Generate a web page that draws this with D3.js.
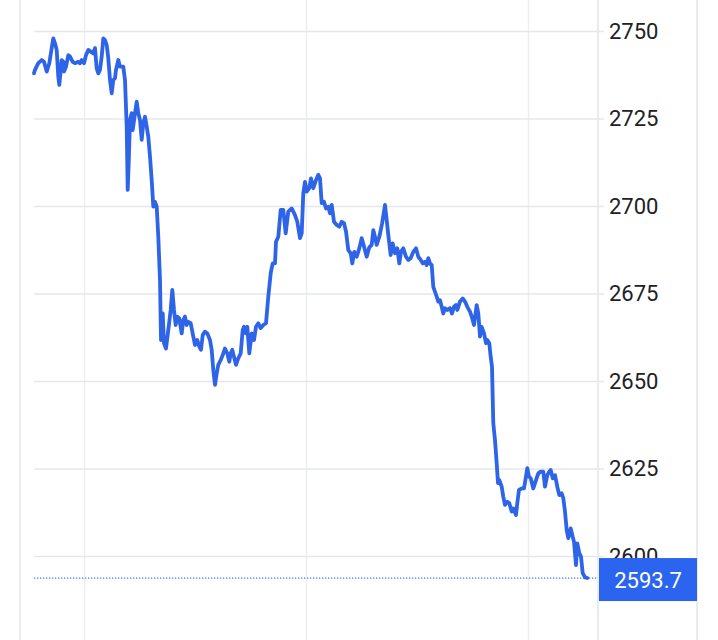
<!DOCTYPE html>
<html>
<head>
<meta charset="utf-8">
<script src="https://cdn.jsdelivr.net/npm/d3@7"></script>
<style>
  html, body { margin: 0; padding: 0; background: #fff; }
  svg { display: block; font-family: Roboto, "Noto Sans", Arial, sans-serif; }
</style>
</head>
<body>
<div id="chart"></div>
<script>
// price samples: [time step, price]
const prices = [
  [0, 2737.9], [1, 2738.9], [4.3, 2740.8], [7.7, 2741.7], [10, 2741.2], [12.7, 2738.4], [15.3, 2740.8], [17.7, 2745.1], [19.3, 2747.9], [21, 2746.5],
  [22.7, 2744.6], [24.3, 2736.9], [25.3, 2734.6], [27.7, 2741.7], [29.3, 2741.2], [30, 2738.4], [32, 2739.8], [34.3, 2743.1], [36, 2742.7], [38.7, 2741.2],
  [41, 2740.8], [44.3, 2741.2], [46, 2740.8], [47.7, 2741.7], [50, 2740.8], [52, 2743.1], [54.3, 2744.6], [56.7, 2744.1], [59.3, 2743.6], [61, 2745.1],
  [62.7, 2739.3], [64.3, 2737.9], [66, 2738.9], [67.7, 2742.7], [69.3, 2747.9], [71, 2747.4], [72.7, 2746.0], [74.3, 2742.2], [76, 2736.0], [77.7, 2732.2],
  [79.3, 2736.0], [81, 2736.5], [82, 2738.9], [84.3, 2741.7], [86, 2739.8], [89.3, 2739.8], [91, 2736.0], [92.7, 2722.7], [93.7, 2704.6], [94.7, 2712.2],
  [96, 2724.6], [97.7, 2726.5], [98.7, 2721.7], [101, 2726.5], [102.7, 2729.8], [104.3, 2726.5], [106, 2724.6], [107.7, 2718.9], [109.3, 2723.6], [111, 2725.5],
  [112.7, 2722.7], [114.3, 2719.8], [116, 2714.1], [117.7, 2707.4], [119.3, 2699.8], [121, 2701.2], [122.7, 2699.8], [124.3, 2691.2], [126, 2678.9], [127, 2661.7],
  [128.7, 2669.3], [130, 2660.8], [132, 2659.3], [134.3, 2664.6], [136.7, 2670.3], [138.3, 2676.0], [140, 2670.3], [141.7, 2666.0], [143.3, 2668.4], [145.3, 2667.9],
  [147.7, 2663.6], [149.3, 2667.4], [151, 2668.4], [152.7, 2666.0], [154.3, 2666.9], [156.7, 2666.5], [159.3, 2662.7], [161, 2660.3], [163.3, 2661.7], [165.3, 2659.8],
  [167, 2658.9], [168.7, 2663.1], [171, 2664.1], [173.3, 2663.6], [176, 2661.7], [177.7, 2658.9], [179.3, 2653.1], [181, 2648.9], [182.7, 2652.2], [184.3, 2654.6],
  [186.7, 2656.0], [188.7, 2657.4], [191, 2659.3], [193.3, 2657.9], [195.3, 2655.5], [196.7, 2657.9], [198.3, 2658.9], [200, 2656.9], [202, 2654.6], [204.3, 2656.5],
  [206.7, 2657.9], [208.7, 2664.6], [210, 2665.5], [212, 2663.6], [213.3, 2665.5], [215.3, 2657.9], [217.7, 2663.6], [220, 2661.7], [222, 2665.5], [224.3, 2666.5],
  [226.7, 2665.1], [229.3, 2666.0], [232, 2666.5], [234.3, 2674.1], [236.7, 2680.8], [238.7, 2683.6], [241, 2683.6], [242, 2689.8], [244.3, 2691.2], [246.7, 2698.9],
  [249.3, 2698.9], [251.7, 2692.2], [254.3, 2698.4], [257.7, 2699.3], [261, 2697.4], [263.3, 2695.5], [266, 2690.8], [267.7, 2692.2], [269.3, 2703.6], [271, 2706.9],
  [272.7, 2704.1], [275.3, 2705.1], [277, 2707.9], [279.3, 2705.1], [282, 2707.4], [284.3, 2708.9], [286, 2707.9], [287.7, 2700.8], [290, 2701.2], [292, 2699.3],
  [294.3, 2699.8], [296, 2697.9], [297.7, 2700.3], [300, 2695.5], [302.7, 2694.6], [305.3, 2694.1], [307.7, 2695.5], [310, 2695.1], [312, 2692.7], [314.3, 2687.4],
  [316.7, 2686.5], [318.3, 2683.6], [320.3, 2686.9], [322.7, 2685.5], [325.3, 2687.9], [327.7, 2690.8], [330, 2688.4], [332.7, 2685.5], [335.3, 2688.2], [337.7, 2688.9],
  [339.3, 2693.1], [341, 2691.2], [342.7, 2688.9], [345.5, 2691.4], [348, 2694.9], [351, 2700.3], [352.7, 2696.0], [354.3, 2691.7], [356.7, 2686.0], [358.7, 2689.3],
  [361, 2686.5], [363.3, 2687.9], [365.3, 2683.6], [367, 2686.9], [369.3, 2687.9], [372, 2685.5], [374.3, 2684.6], [376.7, 2685.1], [379.3, 2686.9], [382, 2687.9],
  [384.3, 2685.5], [386.7, 2684.6], [388.7, 2683.6], [391, 2684.1], [392.7, 2683.1], [394.3, 2685.1], [396, 2683.6], [397.7, 2683.1], [399.3, 2676.9], [401, 2675.5],
  [402.7, 2674.1], [404.3, 2672.7], [406, 2673.1], [407.7, 2671.2], [409.3, 2669.3], [411, 2670.8], [413.3, 2670.3], [416, 2670.8], [418, 2669.3], [420, 2671.2],
  [422, 2671.7], [423.3, 2670.3], [426, 2672.7], [428.7, 2673.6], [431, 2672.7], [433.3, 2671.2], [436, 2669.8], [437.7, 2668.4], [440, 2666.0], [442.7, 2671.7],
  [444.3, 2669.3], [446, 2662.7], [447.7, 2665.5], [450, 2663.6], [452, 2660.8], [453.3, 2661.7], [455.3, 2660.8], [456.7, 2656.9], [458, 2654.1], [459.3, 2637.9],
  [461, 2633.1], [462.7, 2626.5], [464, 2620.8], [465.3, 2621.7], [467.7, 2619.8], [469.3, 2616.9], [471, 2614.6], [473.3, 2615.5], [475.3, 2615.1], [477.7, 2612.7],
  [479.3, 2613.6], [482, 2611.7], [483.3, 2615.1], [485, 2618.9], [487.7, 2619.3], [490, 2619.3], [491.7, 2622.2], [493.3, 2625.1], [495, 2622.7], [496.7, 2622.2],
  [499.3, 2619.3], [502, 2621.7], [504.3, 2623.6], [506.7, 2624.1], [509.3, 2624.1], [511, 2619.8], [513.3, 2623.1], [515.3, 2624.1], [516.7, 2624.6], [518.7, 2622.2],
  [521, 2623.1], [523.3, 2619.8], [525.3, 2617.4], [527.7, 2617.9], [529.3, 2616.5], [531, 2612.7], [532.7, 2607.4], [534.3, 2605.1], [536.7, 2607.9], [538.7, 2605.5],
  [540, 2604.1], [542, 2597.4], [543.3, 2603.6], [545.3, 2600.8], [547, 2599.8], [548.7, 2595.1], [551, 2593.9], [553.3, 2593.7]
];

const yTicks = [2600, 2625, 2650, 2675, 2700, 2725, 2750];
const gridTimes = [50, 272, 494];   // vertical separators (session breaks)
const lastPrice = 2593.7;

const width = 718;
const height = 640;
const plotLeft = 34;
const plotRight = 587.3;
const axisX = 598;
const frameLeft = 20;
const frameRight = 697;

const x = d3.scaleLinear()
  .domain([0, 553.3])
  .range([plotLeft, plotRight]);

const y = d3.scaleLinear()
  .domain([2600, 2750])
  .range([556, 31]);

const svg = d3.select("#chart")
  .append("svg")
  .attr("width", width)
  .attr("height", height);

// frame lines
svg.selectAll(".frame")
  .data([frameLeft, axisX, frameRight])
  .enter()
  .append("line")
  .attr("class", "frame")
  .attr("x1", d => d).attr("x2", d => d)
  .attr("y1", 0).attr("y2", height)
  .attr("stroke", "#e3e5e8")
  .attr("stroke-width", 1.5);

// vertical grid
svg.append("g")
  .call(d3.axisBottom(x).tickValues(gridTimes).tickSize(height).tickFormat(""))
  .call(g => g.select(".domain").remove())
  .call(g => g.selectAll("line").attr("stroke", "#eceef2").attr("stroke-width", 1.5));

// horizontal grid + price labels
svg.append("g")
  .attr("transform", `translate(${plotLeft},0)`)
  .call(d3.axisRight(y).tickValues(yTicks).tickSize(570).tickPadding(5).tickFormat(d3.format("d")))
  .call(g => g.select(".domain").remove())
  .call(g => g.selectAll("line").attr("stroke", "#e6e7ea").attr("stroke-width", 1.5))
  .call(g => g.selectAll("text")
    .attr("fill", "#202124")
    .style("font-size", "22px")
    .style("font-family", "Roboto, sans-serif"));

// last price dotted line
svg.append("line")
  .attr("x1", plotLeft).attr("x2", axisX)
  .attr("y1", y(lastPrice)).attr("y2", y(lastPrice))
  .attr("stroke", "#4a78e0")
  .attr("stroke-width", 1.3)
  .attr("stroke-dasharray", "1.3,1.7");

// price line
const line = d3.line()
  .x(d => x(d[0]))
  .y(d => y(d[1]));

svg.append("path")
  .datum(prices)
  .attr("fill", "none")
  .attr("stroke", "#2d64e8")
  .attr("stroke-width", 3.8)
  .attr("stroke-linejoin", "round")
  .attr("stroke-linecap", "round")
  .attr("d", line);

// last price tag
const tag = svg.append("g")
  .attr("transform", `translate(${axisX + 1},${y(lastPrice)})`);

tag.append("rect")
  .attr("x", 0)
  .attr("y", -20)
  .attr("width", frameRight - axisX - 1)
  .attr("height", 43)
  .attr("fill", "#2b64ee");

tag.append("text")
  .attr("x", (frameRight - axisX - 1) / 2)
  .attr("y", 2)
  .attr("dy", "0.35em")
  .attr("text-anchor", "middle")
  .attr("fill", "#ffffff")
  .style("font-size", "22px")
  .style("font-family", "Roboto, sans-serif")
  .text(d3.format(".1f")(lastPrice));
</script>
</body>
</html>
